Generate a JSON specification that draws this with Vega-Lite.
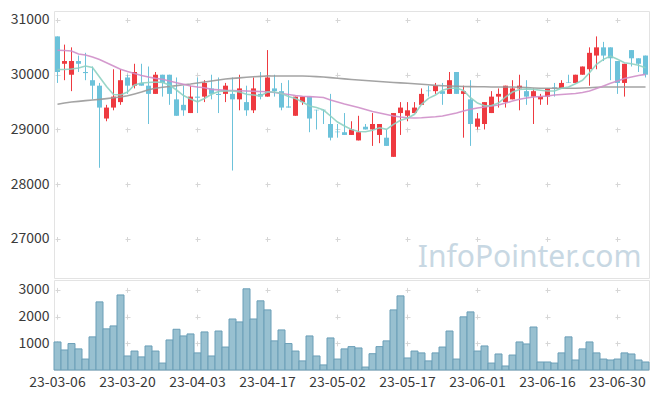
{
  "$schema": "https://vega.github.io/schema/vega-lite/v6.json",
  "background": "white",
  "padding": {"left": 5, "top": 10, "right": 5, "bottom": 5},
  "spacing": 0,
  "config": {
    "view": {"stroke": "#e3e3e3"},
    "font": "Noto Sans CJK KR",
    "axis": {"labelFont": "Noto Sans CJK KR", "labelFontSize": 14, "labelColor": "#3a3a3a", "ticks": false, "domain": false, "title": null, "gridColor": "#d6d6d6"}
  },
  "datasets": {
    "k": [
      {"date":"2023-03-06","open":30700,"high":30700,"low":29850,"close":30050,"volume":1050,"ma5":30095,"ma20":30446,"ma60":29460},
      {"date":"2023-03-07","open":30200,"high":30550,"low":29900,"close":30250,"volume":750,"ma5":30095,"ma20":30442,"ma60":29483},
      {"date":"2023-03-08","open":30000,"high":30500,"low":29700,"close":30250,"volume":990,"ma5":30104,"ma20":30433,"ma60":29502},
      {"date":"2023-03-09","open":30250,"high":30350,"low":30050,"close":30200,"volume":790,"ma5":30122,"ma20":30378,"ma60":29514},
      {"date":"2023-03-10","open":30050,"high":30400,"low":29900,"close":30030,"volume":410,"ma5":30159,"ma20":30360,"ma60":29527},
      {"date":"2023-03-13","open":29900,"high":30150,"low":29550,"close":29800,"volume":1240,"ma5":30131,"ma20":30323,"ma60":29538},
      {"date":"2023-03-14","open":29800,"high":29850,"low":28300,"close":29400,"volume":2550,"ma5":29958,"ma20":30278,"ma60":29549},
      {"date":"2023-03-15","open":29200,"high":29450,"low":29150,"close":29400,"volume":1540,"ma5":29785,"ma20":30219,"ma60":29564},
      {"date":"2023-03-16","open":29400,"high":30100,"low":29350,"close":29600,"volume":1650,"ma5":29638,"ma20":30159,"ma60":29578},
      {"date":"2023-03-17","open":29500,"high":30100,"low":29450,"close":29900,"volume":2810,"ma5":29629,"ma20":30099,"ma60":29593},
      {"date":"2023-03-20","open":29950,"high":30000,"low":29650,"close":29800,"volume":525,"ma5":29684,"ma20":30058,"ma60":29615},
      {"date":"2023-03-21","open":29800,"high":30200,"low":29750,"close":30050,"volume":710,"ma5":29812,"ma20":30022,"ma60":29648},
      {"date":"2023-03-22","open":29850,"high":30200,"low":29800,"close":29800,"volume":490,"ma5":29848,"ma20":29985,"ma60":29684},
      {"date":"2023-03-23","open":29800,"high":30150,"low":29100,"close":29650,"volume":900,"ma5":29858,"ma20":29958,"ma60":29726},
      {"date":"2023-03-24","open":29650,"high":30050,"low":29650,"close":30000,"volume":710,"ma5":29867,"ma20":29934,"ma60":29752},
      {"date":"2023-03-27","open":30000,"high":30000,"low":29600,"close":29850,"volume":260,"ma5":29858,"ma20":29916,"ma60":29770},
      {"date":"2023-03-28","open":30000,"high":30000,"low":29450,"close":29650,"volume":1125,"ma5":29812,"ma20":29885,"ma60":29786},
      {"date":"2023-03-29","open":29550,"high":29950,"low":29250,"close":29250,"volume":1525,"ma5":29721,"ma20":29854,"ma60":29801},
      {"date":"2023-03-30","open":29450,"high":29800,"low":29250,"close":29350,"volume":1275,"ma5":29620,"ma20":29825,"ma60":29816},
      {"date":"2023-03-31","open":29300,"high":29800,"low":29300,"close":29600,"volume":1350,"ma5":29556,"ma20":29794,"ma60":29830},
      {"date":"2023-04-03","open":29600,"high":29950,"low":29300,"close":29580,"volume":640,"ma5":29505,"ma20":29775,"ma60":29848},
      {"date":"2023-04-04","open":29600,"high":29900,"low":29500,"close":29850,"volume":1425,"ma5":29566,"ma20":29763,"ma60":29867},
      {"date":"2023-04-05","open":29750,"high":30000,"low":29550,"close":29650,"volume":525,"ma5":29642,"ma20":29733,"ma60":29885},
      {"date":"2023-04-06","open":29650,"high":29950,"low":29300,"close":29630,"volume":1460,"ma5":29693,"ma20":29724,"ma60":29903},
      {"date":"2023-04-07","open":29650,"high":29850,"low":29500,"close":29800,"volume":860,"ma5":29702,"ma20":29715,"ma60":29921},
      {"date":"2023-04-10","open":29650,"high":29950,"low":28250,"close":29550,"volume":1910,"ma5":29702,"ma20":29711,"ma60":29934},
      {"date":"2023-04-11","open":29550,"high":30000,"low":29350,"close":29750,"volume":1800,"ma5":29684,"ma20":29706,"ma60":29943},
      {"date":"2023-04-12","open":29500,"high":29800,"low":29250,"close":29350,"volume":3040,"ma5":29642,"ma20":29702,"ma60":29953},
      {"date":"2023-04-13","open":29350,"high":29950,"low":29300,"close":29750,"volume":1910,"ma5":29629,"ma20":29697,"ma60":29962},
      {"date":"2023-04-14","open":29650,"high":30050,"low":29550,"close":29600,"volume":2590,"ma5":29611,"ma20":29693,"ma60":29969},
      {"date":"2023-04-17","open":29600,"high":30450,"low":29600,"close":29950,"volume":2250,"ma5":29684,"ma20":29690,"ma60":29976},
      {"date":"2023-04-18","open":29750,"high":30000,"low":29600,"close":29700,"volume":1090,"ma5":29684,"ma20":29675,"ma60":29976},
      {"date":"2023-04-19","open":29700,"high":29850,"low":29350,"close":29400,"volume":1500,"ma5":29657,"ma20":29657,"ma60":29976},
      {"date":"2023-04-20","open":29420,"high":29900,"low":29400,"close":29400,"volume":990,"ma5":29602,"ma20":29638,"ma60":29976},
      {"date":"2023-04-21","open":29250,"high":29600,"low":29250,"close":29600,"volume":710,"ma5":29565,"ma20":29620,"ma60":29976},
      {"date":"2023-04-24","open":29500,"high":29600,"low":29450,"close":29600,"volume":340,"ma5":29502,"ma20":29607,"ma60":29976},
      {"date":"2023-04-25","open":29600,"high":29600,"low":28950,"close":29200,"volume":1275,"ma5":29428,"ma20":29600,"ma60":29971},
      {"date":"2023-04-26","open":29360,"high":29360,"low":29000,"close":29350,"volume":525,"ma5":29401,"ma20":29593,"ma60":29965},
      {"date":"2023-04-27","open":29360,"high":29360,"low":29100,"close":29350,"volume":190,"ma5":29355,"ma20":29584,"ma60":29958},
      {"date":"2023-04-28","open":29100,"high":29650,"low":28800,"close":28850,"volume":1200,"ma5":29246,"ma20":29538,"ma60":29947},
      {"date":"2023-05-02","open":28960,"high":29100,"low":28850,"close":28950,"volume":410,"ma5":29136,"ma20":29502,"ma60":29936},
      {"date":"2023-05-03","open":28950,"high":29300,"low":28900,"close":28900,"volume":790,"ma5":29063,"ma20":29465,"ma60":29925},
      {"date":"2023-05-04","open":28900,"high":29150,"low":28900,"close":29000,"volume":875,"ma5":29000,"ma20":29432,"ma60":29914},
      {"date":"2023-05-08","open":28800,"high":29250,"low":28800,"close":28950,"volume":825,"ma5":28963,"ma20":29401,"ma60":29903},
      {"date":"2023-05-09","open":29050,"high":29100,"low":29000,"close":29000,"volume":110,"ma5":28959,"ma20":29365,"ma60":29894},
      {"date":"2023-05-10","open":29000,"high":29300,"low":28700,"close":29100,"volume":610,"ma5":28985,"ma20":29328,"ma60":29885},
      {"date":"2023-05-11","open":28900,"high":29100,"low":28750,"close":29100,"volume":875,"ma5":29032,"ma20":29301,"ma60":29876},
      {"date":"2023-05-12","open":28850,"high":29000,"low":28700,"close":28700,"volume":1090,"ma5":29003,"ma20":29273,"ma60":29867},
      {"date":"2023-05-15","open":28500,"high":29300,"low":28500,"close":29300,"volume":2250,"ma5":29094,"ma20":29246,"ma60":29859},
      {"date":"2023-05-16","open":29300,"high":29500,"low":28900,"close":29400,"volume":2775,"ma5":29167,"ma20":29228,"ma60":29852},
      {"date":"2023-05-17","open":29250,"high":29500,"low":29150,"close":29350,"volume":450,"ma5":29204,"ma20":29213,"ma60":29843},
      {"date":"2023-05-18","open":29300,"high":29500,"low":29300,"close":29400,"volume":710,"ma5":29277,"ma20":29209,"ma60":29836},
      {"date":"2023-05-19","open":29450,"high":29750,"low":29450,"close":29650,"volume":640,"ma5":29460,"ma20":29213,"ma60":29827},
      {"date":"2023-05-22","open":29710,"high":29800,"low":29600,"close":29700,"volume":340,"ma5":29569,"ma20":29222,"ma60":29816},
      {"date":"2023-05-23","open":29700,"high":29850,"low":29650,"close":29800,"volume":640,"ma5":29629,"ma20":29231,"ma60":29806},
      {"date":"2023-05-24","open":29700,"high":29850,"low":29450,"close":29650,"volume":860,"ma5":29715,"ma20":29246,"ma60":29799},
      {"date":"2023-05-25","open":29650,"high":30050,"low":29650,"close":29900,"volume":1460,"ma5":29752,"ma20":29273,"ma60":29794},
      {"date":"2023-05-26","open":30050,"high":30050,"low":29650,"close":29650,"volume":410,"ma5":29757,"ma20":29301,"ma60":29790},
      {"date":"2023-05-30","open":29650,"high":29800,"low":28850,"close":29700,"volume":1990,"ma5":29711,"ma20":29337,"ma60":29786},
      {"date":"2023-05-31","open":29550,"high":29900,"low":28700,"close":29100,"volume":2175,"ma5":29580,"ma20":29368,"ma60":29783},
      {"date":"2023-06-01","open":29050,"high":29300,"low":29000,"close":29200,"volume":710,"ma5":29483,"ma20":29392,"ma60":29781},
      {"date":"2023-06-02","open":29100,"high":29500,"low":29000,"close":29500,"volume":900,"ma5":29434,"ma20":29410,"ma60":29779},
      {"date":"2023-06-05","open":29300,"high":29700,"low":29300,"close":29600,"volume":260,"ma5":29438,"ma20":29428,"ma60":29777},
      {"date":"2023-06-07","open":29600,"high":29750,"low":29400,"close":29650,"volume":600,"ma5":29483,"ma20":29447,"ma60":29775},
      {"date":"2023-06-08","open":29500,"high":29800,"low":29400,"close":29800,"volume":150,"ma5":29593,"ma20":29483,"ma60":29775},
      {"date":"2023-06-09","open":29550,"high":29900,"low":29550,"close":29750,"volume":560,"ma5":29684,"ma20":29520,"ma60":29775},
      {"date":"2023-06-12","open":29750,"high":30000,"low":29350,"close":29800,"volume":1050,"ma5":29730,"ma20":29551,"ma60":29770},
      {"date":"2023-06-13","open":29700,"high":29900,"low":29450,"close":29600,"volume":975,"ma5":29739,"ma20":29575,"ma60":29764},
      {"date":"2023-06-14","open":29600,"high":29750,"low":29100,"close":29700,"volume":1610,"ma5":29733,"ma20":29593,"ma60":29757},
      {"date":"2023-06-15","open":29550,"high":29650,"low":29450,"close":29600,"volume":300,"ma5":29717,"ma20":29602,"ma60":29752},
      {"date":"2023-06-16","open":29600,"high":29750,"low":29450,"close":29750,"volume":300,"ma5":29702,"ma20":29611,"ma60":29752},
      {"date":"2023-06-19","open":29770,"high":29850,"low":29600,"close":29750,"volume":260,"ma5":29702,"ma20":29629,"ma60":29752},
      {"date":"2023-06-20","open":29750,"high":29900,"low":29750,"close":29850,"volume":640,"ma5":29752,"ma20":29638,"ma60":29752},
      {"date":"2023-06-21","open":29860,"high":30000,"low":29850,"close":29850,"volume":1240,"ma5":29775,"ma20":29648,"ma60":29752},
      {"date":"2023-06-22","open":29850,"high":30000,"low":29850,"close":30000,"volume":375,"ma5":29836,"ma20":29657,"ma60":29752},
      {"date":"2023-06-23","open":30000,"high":30150,"low":30000,"close":30150,"volume":790,"ma5":29898,"ma20":29675,"ma60":29757},
      {"date":"2023-06-26","open":30100,"high":30500,"low":29800,"close":30400,"volume":1050,"ma5":30037,"ma20":29702,"ma60":29763},
      {"date":"2023-06-27","open":30350,"high":30700,"low":30100,"close":30500,"volume":640,"ma5":30190,"ma20":29748,"ma60":29770},
      {"date":"2023-06-28","open":30500,"high":30600,"low":30250,"close":30350,"volume":410,"ma5":30281,"ma20":29794,"ma60":29775},
      {"date":"2023-06-29","open":30500,"high":30500,"low":29900,"close":30300,"volume":375,"ma5":30341,"ma20":29843,"ma60":29775},
      {"date":"2023-06-30","open":30250,"high":30250,"low":29650,"close":29850,"volume":410,"ma5":30281,"ma20":29885,"ma60":29775},
      {"date":"2023-07-03","open":29850,"high":30200,"low":29600,"close":30200,"volume":640,"ma5":30219,"ma20":29931,"ma60":29775},
      {"date":"2023-07-04","open":30450,"high":30450,"low":30150,"close":30300,"volume":600,"ma5":30201,"ma20":29958,"ma60":29775},
      {"date":"2023-07-05","open":30300,"high":30300,"low":30050,"close":30200,"volume":375,"ma5":30172,"ma20":29985,"ma60":29775},
      {"date":"2023-07-06","open":30350,"high":30350,"low":29950,"close":30000,"volume":300,"ma5":30128,"ma20":30007,"ma60":29775}
    ],
    "mark": [
      {"label": "InfoPointer.com", "date": "2023-07-06", "price": 26490}
    ]
  },
  "vconcat": [
    {
      "width": 595,
      "height": 267,
      "encoding": {
        "x": {
          "field": "date", "type": "ordinal",
          "scale": {"paddingInner": 0, "paddingOuter": 0},
          "axis": {"orient": "bottom", "labels": false, "grid": true, "bandPosition": 0.5,
                   "values": ["2023-03-06","2023-03-20","2023-04-03","2023-04-17","2023-05-02","2023-05-17","2023-06-01","2023-06-16","2023-06-30"],
                   "gridDash": [5, 49.75], "gridDashOffset": 48.25}
        }
      },
      "layer": [
        {
          "data": {"name": "k"},
          "mark": {"type": "rule", "strokeWidth": 1},
          "encoding": {
            "y": {"field": "low", "type": "quantitative", "title": null,
                  "scale": {"domain": [26287, 31164], "nice": false, "zero": false},
                  "axis": {"values": [27000, 28000, 29000, 30000, 31000], "format": "d", "grid": true, "gridDash": [5, 65], "gridDashOffset": 69, "labelPadding": 5, "minExtent": 48, "maxExtent": 48}},
            "y2": {"field": "high"},
            "color": {"condition": {"test": "datum.close > datum.open", "value": "#ee3a40"}, "value": "#6cc2da"}
          }
        },
        {
          "data": {"name": "k"},
          "mark": {"type": "bar", "width": {"band": 0.72}},
          "encoding": {
            "y": {"field": "open", "type": "quantitative", "title": null,
                  "scale": {"domain": [26287, 31164], "nice": false, "zero": false},
                  "axis": {"values": [27000, 28000, 29000, 30000, 31000], "format": "d", "grid": true, "gridDash": [5, 65], "gridDashOffset": 69, "labelPadding": 5, "minExtent": 48, "maxExtent": 48}},
            "y2": {"field": "close"},
            "color": {"condition": {"test": "datum.close > datum.open", "value": "#ee3a40"}, "value": "#6cc2da"}
          }
        },
        {
          "data": {"name": "k"},
          "mark": {"type": "line", "color": "#9a9a9a", "strokeWidth": 1.6, "opacity": 0.9},
          "encoding": {"y": {"field": "ma60", "type": "quantitative", "title": null,
                  "scale": {"domain": [26287, 31164], "nice": false, "zero": false},
                  "axis": {"values": [27000, 28000, 29000, 30000, 31000], "format": "d", "grid": true, "gridDash": [5, 65], "gridDashOffset": 69, "labelPadding": 5, "minExtent": 48, "maxExtent": 48}}}
        },
        {
          "data": {"name": "k"},
          "mark": {"type": "line", "color": "#cf8fc9", "strokeWidth": 1.6, "opacity": 0.9},
          "encoding": {"y": {"field": "ma20", "type": "quantitative", "title": null,
                  "scale": {"domain": [26287, 31164], "nice": false, "zero": false},
                  "axis": {"values": [27000, 28000, 29000, 30000, 31000], "format": "d", "grid": true, "gridDash": [5, 65], "gridDashOffset": 69, "labelPadding": 5, "minExtent": 48, "maxExtent": 48}}}
        },
        {
          "data": {"name": "k"},
          "mark": {"type": "line", "color": "#8fd1c2", "strokeWidth": 1.6, "opacity": 0.9},
          "encoding": {"y": {"field": "ma5", "type": "quantitative", "title": null,
                  "scale": {"domain": [26287, 31164], "nice": false, "zero": false},
                  "axis": {"values": [27000, 28000, 29000, 30000, 31000], "format": "d", "grid": true, "gridDash": [5, 65], "gridDashOffset": 69, "labelPadding": 5, "minExtent": 48, "maxExtent": 48}}}
        },
        {
          "data": {"name": "mark"},
          "mark": {"type": "text", "align": "right", "baseline": "alphabetic", "dx": -4, "fontSize": 30, "font": "Noto Sans", "color": "#c8d8e3"},
          "encoding": {
            "y": {"field": "price", "type": "quantitative", "title": null,
                  "scale": {"domain": [26287, 31164], "nice": false, "zero": false},
                  "axis": {"values": [27000, 28000, 29000, 30000, 31000], "format": "d", "grid": true, "gridDash": [5, 65], "gridDashOffset": 69, "labelPadding": 5, "minExtent": 48, "maxExtent": 48}},
            "text": {"field": "label"}
          }
        }
      ]
    },
    {
      "width": 595,
      "height": 90,
      "data": {"name": "k"},
      "mark": {"type": "bar", "width": {"band": 1}, "fill": "#98c0d0", "stroke": "#6a9eb7", "strokeWidth": 1},
      "encoding": {
        "x": {
          "field": "date", "type": "ordinal",
          "scale": {"paddingInner": 0, "paddingOuter": 0},
          "axis": {"values": ["2023-03-06","2023-03-20","2023-04-03","2023-04-17","2023-05-02","2023-05-17","2023-06-01","2023-06-16","2023-06-30"],
                   "labelExpr": "substring(datum.value, 2)", "labelAngle": 0, "labelPadding": 5, "grid": true, "bandPosition": 0.5,
                   "gridDash": [5, 21.7], "gridDashOffset": 19.3}
        },
        "y": {
          "field": "volume", "type": "quantitative", "title": null,
          "scale": {"domain": [0, 3370], "nice": false},
          "axis": {"values": [1000, 2000, 3000], "format": "d", "grid": true, "gridDash": [5, 65], "gridDashOffset": 69, "labelPadding": 5, "minExtent": 48, "maxExtent": 48}
        }
      }
    }
  ]
}
